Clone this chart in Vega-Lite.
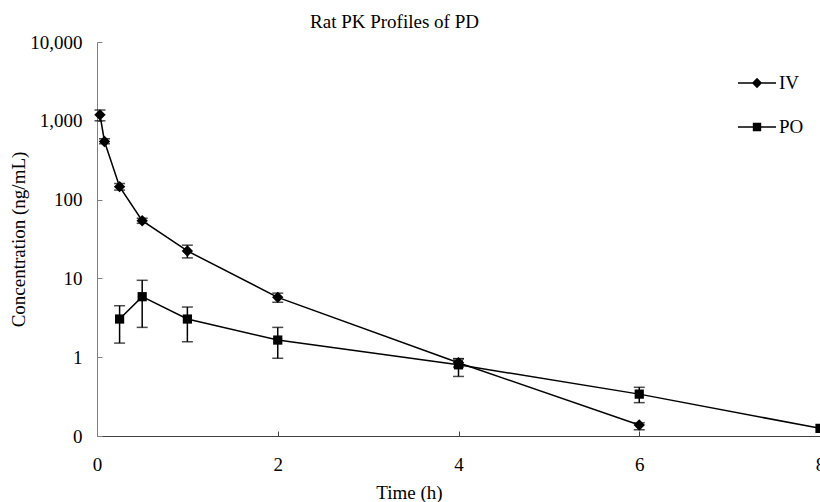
{
  "$schema": "https://vega.github.io/schema/vega-lite/v6.json",
  "autosize": {"type": "none"},
  "padding": {"left": 97, "top": 42, "right": 0, "bottom": 66},
  "width": 723,
  "height": 394,
  "background": "white",
  "title": {
    "text": "Rat PK Profiles of PD",
    "font": "Liberation Serif",
    "fontSize": 19,
    "fontWeight": "normal",
    "color": "black",
    "anchor": "middle",
    "dx": -64,
    "dy": 27,
    "baseline": "alphabetic",
    "offset": 13
  },
  "data": {
    "values": [
      {"series": "IV", "t": 0.033, "c": 1190, "lo": 1000, "hi": 1370},
      {"series": "IV", "t": 0.083, "c": 547, "lo": 510, "hi": 590},
      {"series": "IV", "t": 0.25, "c": 146, "lo": 132, "hi": 160},
      {"series": "IV", "t": 0.5, "c": 54, "lo": 50, "hi": 58},
      {"series": "IV", "t": 1, "c": 22.3, "lo": 18.2, "hi": 26.4},
      {"series": "IV", "t": 2, "c": 5.75, "lo": 4.98, "hi": 6.5},
      {"series": "IV", "t": 4, "c": 0.85, "lo": 0.75, "hi": 0.96},
      {"series": "IV", "t": 6, "c": 0.138, "lo": 0.12, "hi": 0.147},
      {"series": "PO", "t": 0.25, "c": 3.05, "lo": 1.51, "hi": 4.5},
      {"series": "PO", "t": 0.5, "c": 5.86, "lo": 2.39, "hi": 9.46},
      {"series": "PO", "t": 1, "c": 3.05, "lo": 1.57, "hi": 4.33},
      {"series": "PO", "t": 2, "c": 1.65, "lo": 0.97, "hi": 2.39},
      {"series": "PO", "t": 4, "c": 0.8, "lo": 0.57, "hi": 0.95},
      {"series": "PO", "t": 6, "c": 0.34, "lo": 0.265, "hi": 0.415},
      {"series": "PO", "t": 8, "c": 0.125, "lo": null, "hi": null}
    ]
  },
  "encoding": {
    "x": {
      "field": "t", "type": "quantitative",
      "scale": {"domain": [0, 8], "nice": false, "zero": false},
      "axis": {
        "values": [0, 2, 4, 6, 8], "format": "d", "grid": false,
        "tickSize": -5, "labelPadding": 24, "labelFlush": false,
        "domainColor": "#404040", "tickColor": "#404040",
        "labelFont": "Liberation Serif", "labelFontSize": 19, "labelColor": "black",
        "title": "Time (h)", "titleFont": "Liberation Serif", "titleFontSize": 19,
        "titleFontWeight": "normal", "titleColor": "black",
        "titleX": 312, "titleY": 62, "titleBaseline": "alphabetic", "titleAlign": "center"
      }
    },
    "y": {
      "field": "c", "type": "quantitative",
      "scale": {"type": "log", "domain": [0.1, 10000], "nice": false},
      "axis": {
        "values": [0.1, 1, 10, 100, 1000, 10000], "grid": false,
        "labelExpr": "datum.value < 0.5 ? '0' : format(datum.value, ',')",
        "tickSize": -5, "labelPadding": 20,
        "domainColor": "#808080", "tickColor": "#808080",
        "labelFont": "Liberation Serif", "labelFontSize": 19, "labelColor": "black",
        "title": "Concentration (ng/mL)", "titleFont": "Liberation Serif", "titleFontSize": 19,
        "titleFontWeight": "normal", "titleColor": "black",
        "titleX": -79, "titleY": 197, "titleBaseline": "middle", "titleAlign": "center", "titleAngle": -90
      }
    }
  },
  "layer": [
    {
      "mark": {"type": "line", "color": "black", "strokeWidth": 1.5},
      "encoding": {"detail": {"field": "series"}}
    },
    {
      "mark": {"type": "rule", "color": "black", "strokeWidth": 1.5},
      "encoding": {"y": {"field": "lo", "type": "quantitative"}, "y2": {"field": "hi"}}
    },
    {
      "mark": {"type": "tick", "orient": "horizontal", "color": "black", "size": 11, "thickness": 1.5},
      "encoding": {"y": {"field": "lo", "type": "quantitative"}}
    },
    {
      "mark": {"type": "tick", "orient": "horizontal", "color": "black", "size": 11, "thickness": 1.5},
      "encoding": {"y": {"field": "hi", "type": "quantitative"}}
    },
    {
      "transform": [{"filter": "datum.series === 'IV'"}],
      "mark": {"type": "point", "filled": true, "color": "black", "opacity": 1, "shape": "diamond", "size": 130}
    },
    {
      "transform": [{"filter": "datum.series === 'PO'"}],
      "mark": {"type": "point", "filled": true, "color": "black", "opacity": 1, "shape": "square", "size": 85}
    },
    {
      "transform": [{"filter": "false"}],
      "mark": {"type": "point", "filled": true, "color": "black", "opacity": 1, "size": 1444},
      "encoding": {
        "shape": {
          "field": "series", "type": "nominal",
          "scale": {"domain": ["IV", "PO"], "range": ["M-1,-0.04H1V0.04H-1ZM0,-0.27L0.27,0L0,0.27L-0.27,0Z", "M-1,-0.04H1V0.04H-1ZM-0.22,-0.22H0.22V0.22H-0.22Z"]},
          "legend": {
            "orient": "none", "legendX": 640, "legendY": 21, "title": null,
            "padding": 0, "rowPadding": 14, "labelOffset": 2,
            "symbolSize": 1444, "symbolFillColor": "black",
            "labelFont": "Liberation Serif", "labelFontSize": 19, "labelColor": "black"
          }
        }
      }
    }
  ],
  "config": {
    "view": {"stroke": null},
    "font": "Liberation Serif"
  }
}
